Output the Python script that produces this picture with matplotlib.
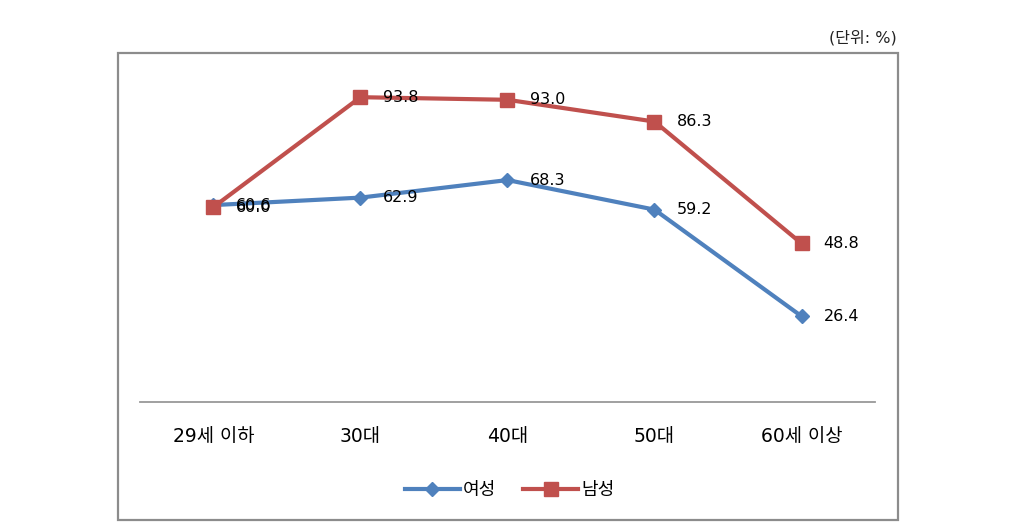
import matplotlib.pyplot as plt
from matplotlib.patches import Rectangle
import numpy as np

plt.rcParams['font.family'] = ['DejaVu Sans', 'Noto Sans CJK KR']

categories = ["29세 이하", "30대", "40대", "50대", "60세 이상"]
female = [60.6, 62.9, 68.3, 59.2, 26.4]
male = [60.0, 93.8, 93.0, 86.3, 48.8]
series_names = ["여성", "남성"]

blue = "#4F81BD"
red = "#C0504D"

fig = plt.figure(figsize=(10.24, 5.31), dpi=100)

# outer frame
fig.patches.append(Rectangle((0.1152, 0.0207), 0.7617, 0.8795, transform=fig.transFigure,
                             fill=False, edgecolor="#8c8c8c", linewidth=1.6))
fig.text(0.876, 0.915, "(단위: %)", ha="right", va="bottom", fontsize=11.5, color="#222222")

ax = fig.add_axes([0.1367, 0.2429, 0.7178, 0.612])
x = np.arange(len(categories))

ax.plot(x, female, color=blue, linewidth=3, marker="D", markersize=7,
        markerfacecolor=blue, markeredgecolor=blue, label=series_names[0])
ax.plot(x, male, color=red, linewidth=3, marker="s", markersize=10,
        markerfacecolor=red, markeredgecolor=red, label=series_names[1])

for xi, v in zip(x, female):
    ax.annotate(f"{v:.1f}", (xi, v), xytext=(16, 0), textcoords="offset points",
                ha="left", va="center", fontsize=11.5, color="black")
for xi, v in zip(x, male):
    ax.annotate(f"{v:.1f}", (xi, v), xytext=(16, 0), textcoords="offset points",
                ha="left", va="center", fontsize=11.5, color="black")

ax.set_xlim(-0.5, len(categories) - 0.5)
ax.set_ylim(0, 100)
ax.set_xticks(x)
ax.set_xticklabels(categories, fontsize=13.5)
ax.tick_params(axis="x", length=0, pad=18)
ax.set_yticks([])
for s in ["top", "right", "left"]:
    ax.spines[s].set_visible(False)
ax.spines["bottom"].set_color("#999999")
ax.spines["bottom"].set_linewidth(1.3)

fig.legend(loc="center", bbox_to_anchor=(0.498, 0.077), ncol=2, frameon=False,
           fontsize=13, handlelength=3.0, columnspacing=1.5, handletextpad=0.2)

fig.savefig("out.png", dpi=100)
